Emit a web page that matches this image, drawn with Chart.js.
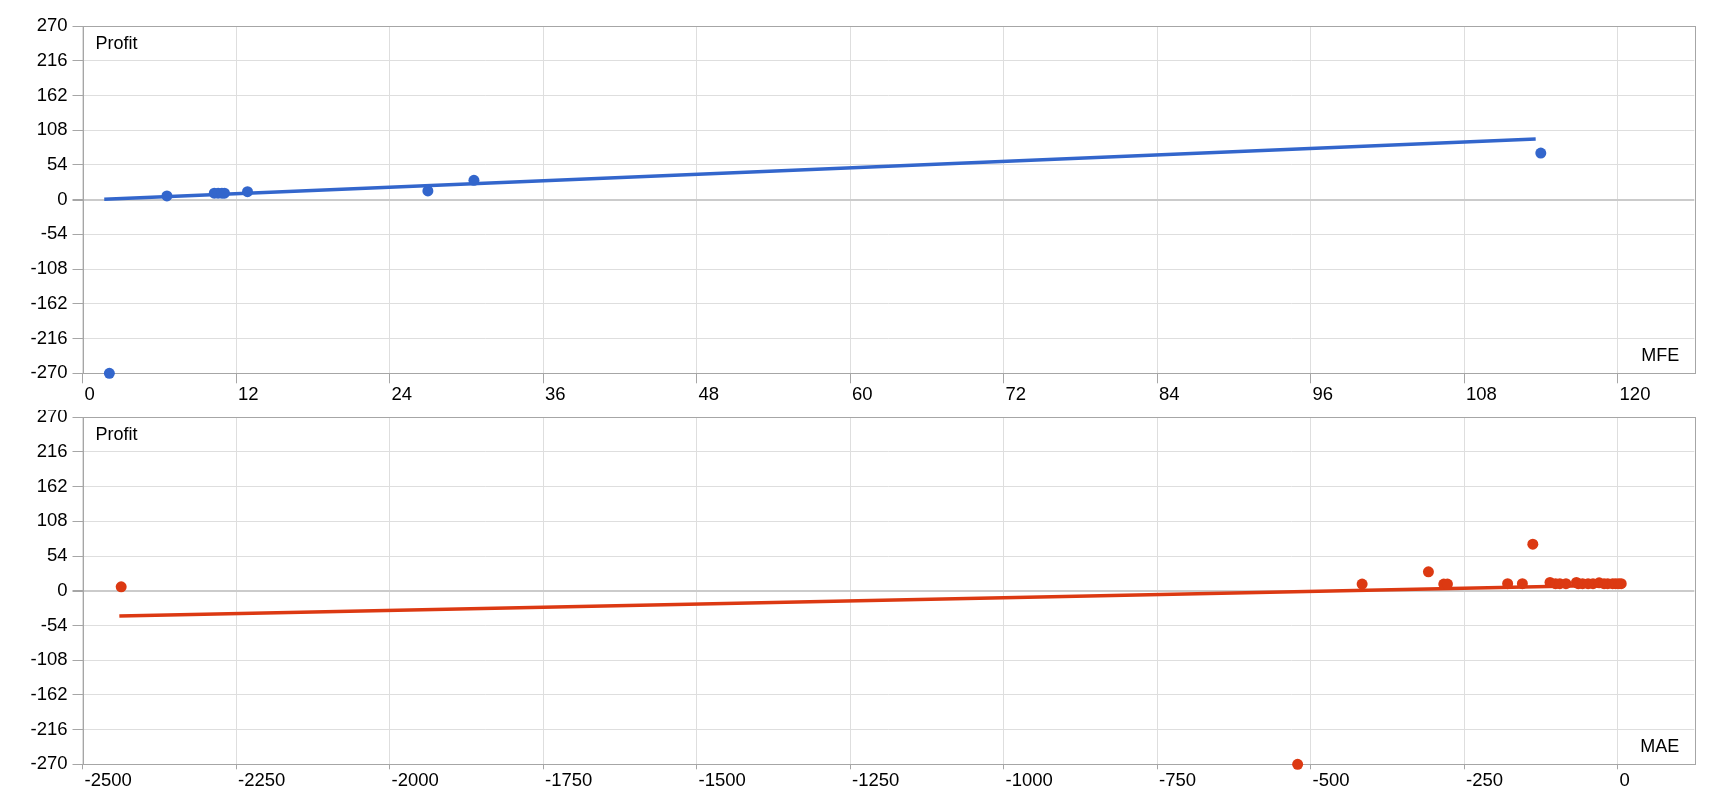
<!DOCTYPE html>
<html lang="en">
<head>
    <meta charset="UTF-8">
    <title>MFE / MAE vs Profit</title>
    <script src="https://cdn.jsdelivr.net/npm/chart.js"></script>
    <style>
        body {
            margin: 0;
            background: #ffffff;
            font-family: Arial, 'Liberation Sans', sans-serif;
        }

        .wrap {
            position: relative;
            width: 1720px;
            height: 800px;
        }

        canvas {
            position: absolute;
            left: 0;
        }

        #mfeChart { top: 0; }
        #maeChart { top: 410px; }
    </style>
</head>
<body>
    <div class="wrap">
        <canvas id="mfeChart" width="1720" height="410"></canvas>
        <canvas id="maeChart" width="1720" height="390"></canvas>
    </div>

    <script>
        // MFE vs profit (top)
        const mfeValues = [2.1, 6.6, 10.3, 10.6, 10.9, 11.1, 12.9, 27.0, 30.6, 114.0];
        const mfeProfit = [-270, 5.7, 10, 10, 10, 10, 12.4, 13.5, 30, 72.5];
        const mfeTrendX = [1.7, 113.6];
        const mfeTrendY = [0.5, 94.3];
        const mfeTicks = { min: 0, max: 126, step: 12 };

        // MAE vs profit (bottom)
        const maeValues = [-2437, -521, -416, -308, -283, -277, -179, -155, -138, -110, -101, -94, -84,
                           -67, -64, -57, -48, -40, -30, -22, -16, -8, -3, 2, 6];
        const maeProfit = [6.2, -270, 10.5, 29.5, 10.5, 10.5, 11, 11, 72.6, 13, 11, 11, 11,
                           13, 11, 11, 11, 11, 12.5, 11, 11, 11, 11, 11, 11];
        const maeTrendX = [-2440, 6];
        const maeTrendY = [-39.3, 9.0];
        const maeTicks = { min: -2500, max: 125, step: 250 };

        // shared profit axis
        const profitTicks = { min: -270, max: 270, step: 54 };

        const FONT = "Arial, 'Liberation Sans', sans-serif";
        const FRAME = '#a6a6a6';

        function toPoints(xs, ys) {
            return xs.map((x, i) => ({ x: x, y: ys[i] }));
        }

        // frame round the plot + the two corner axis titles
        const cornerTitles = {
            id: 'cornerTitles',
            beforeDatasetsDraw(chart) {
                const a = chart.chartArea;
                const ctx = chart.ctx;
                ctx.save();
                ctx.strokeStyle = FRAME;
                ctx.lineWidth = 1;
                ctx.strokeRect(Math.round(a.left) + 0.5, Math.round(a.top) + 0.5,
                    Math.round(a.right - a.left), Math.round(a.bottom - a.top));
                ctx.restore();
            },
            afterDraw(chart, args, opts) {
                const a = chart.chartArea;
                const ctx = chart.ctx;
                ctx.save();
                ctx.fillStyle = '#000';
                ctx.font = '18px ' + FONT;
                ctx.textBaseline = 'middle';
                ctx.textAlign = 'left';
                ctx.fillText(opts.yTitle, a.left + 13, a.top + 18);
                ctx.textAlign = 'right';
                ctx.fillText(opts.xTitle, a.right - 15, a.bottom - 17);
                ctx.restore();
            }
        };

        function makeChart(id, cfg) {
            const ctx = document.getElementById(id).getContext('2d');
            return new Chart(ctx, {
                type: 'scatter',
                data: {
                    datasets: [{
                        data: toPoints(cfg.xs, cfg.ys),
                        backgroundColor: cfg.color,
                        borderWidth: 0,
                        pointRadius: 5.5,
                        pointHoverRadius: 5.5,
                        clip: false
                    }, {
                        data: toPoints(cfg.trendX, cfg.trendY),
                        showLine: true,
                        borderColor: cfg.color,
                        borderWidth: 3.5,
                        borderCapStyle: 'butt',
                        pointRadius: 0,
                        fill: false
                    }]
                },
                options: {
                    responsive: false,
                    animation: false,
                    layout: {
                        padding: { top: cfg.padTop, right: 25.7, left: 0, bottom: 0 }
                    },
                    scales: {
                        x: {
                            type: 'linear',
                            min: cfg.xTicks.min,
                            max: cfg.xTicks.max,
                            afterBuildTicks: (scale) => {
                                scale.ticks = scale.ticks.filter(t => Math.abs(t.value % cfg.xTicks.step) < 1e-6);
                            },
                            afterFit: (scale) => {
                                scale.height = cfg.xHeight;
                                scale.paddingLeft = 0;
                                scale.paddingRight = 0;
                            },
                            ticks: {
                                stepSize: cfg.xTicks.step,
                                align: 'start',
                                labelOffset: 2,
                                padding: cfg.xPad,
                                maxRotation: 0,
                                autoSkip: false,
                                color: '#000',
                                font: { family: FONT, size: 18.5 },
                                callback: (v) => String(v)
                            },
                            grid: {
                                color: '#dedede',
                                tickColor: FRAME,
                                tickLength: cfg.xTickLen
                            },
                            border: { display: false }
                        },
                        y: {
                            min: profitTicks.min,
                            max: profitTicks.max,
                            afterFit: (scale) => {
                                scale.width = 82.5;
                                scale.paddingTop = 0;
                                scale.paddingBottom = 0;
                            },
                            ticks: {
                                stepSize: profitTicks.step,
                                padding: 5,
                                color: '#000',
                                font: { family: FONT, size: 18.5 },
                                callback: (v) => String(v)
                            },
                            grid: {
                                color: (c) => c.tick && c.tick.value === 0 ? '#cbcbcb' : '#dedede',
                                lineWidth: (c) => c.tick && c.tick.value === 0 ? 2 : 1,
                                tickColor: FRAME,
                                tickLength: 10
                            },
                            border: { display: false }
                        }
                    },
                    plugins: {
                        legend: { display: false },
                        title: { display: false },
                        tooltip: { enabled: false },
                        cornerTitles: { xTitle: cfg.xTitle, yTitle: 'Profit' }
                    }
                },
                plugins: [cornerTitles]
            });
        }

        makeChart('mfeChart', {
            xs: mfeValues, ys: mfeProfit,
            trendX: mfeTrendX, trendY: mfeTrendY,
            color: '#3366cc',
            xTicks: mfeTicks,
            xTitle: 'MFE',
            padTop: 26,
            xHeight: 36.7,
            xTickLen: 10,
            xPad: 1
        });

        makeChart('maeChart', {
            xs: maeValues, ys: maeProfit,
            trendX: maeTrendX, trendY: maeTrendY,
            color: '#dc3912',
            xTicks: maeTicks,
            xTitle: 'MAE',
            padTop: 7.3,
            xHeight: 35.7,
            xTickLen: 5,
            xPad: 1
        });
    </script>
</body>
</html>
